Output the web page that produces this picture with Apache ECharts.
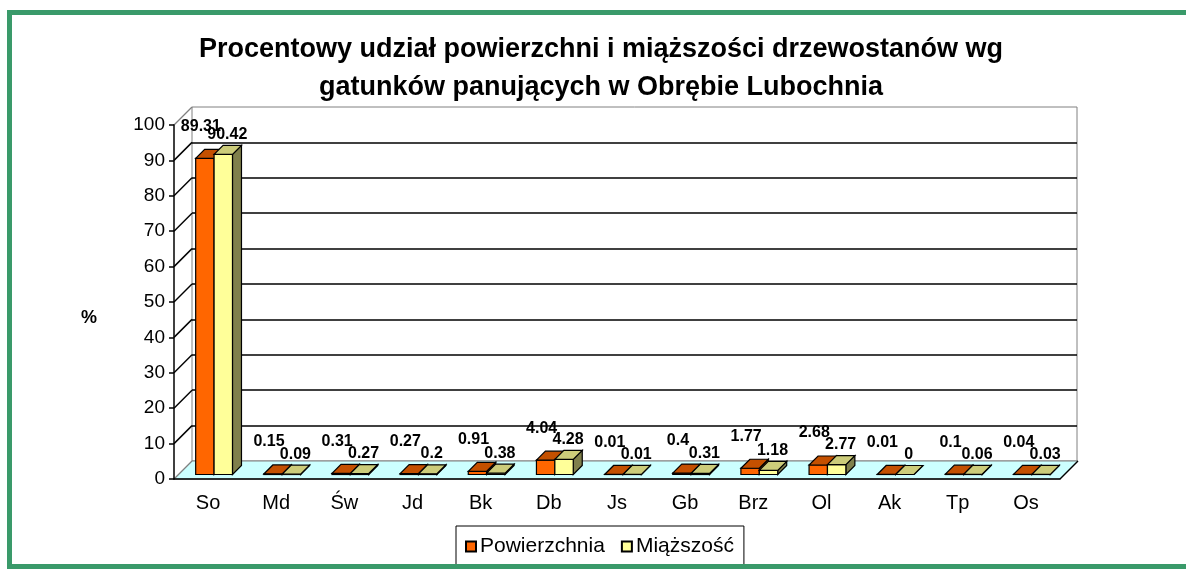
<!DOCTYPE html>
<html>
<head>
<meta charset="utf-8">
<script src="https://cdn.jsdelivr.net/npm/echarts@6/dist/echarts.min.js"></script>
<style>
  html, body { margin: 0; padding: 0; background: #fff; }
  #chart { width: 1186px; height: 569px; }
</style>
</head>
<body>
<div id="chart"></div>
<script>
// gatunki panujace
const categories = ['So', 'Md', 'Św', 'Jd', 'Bk', 'Db', 'Js', 'Gb', 'Brz', 'Ol', 'Ak', 'Tp', 'Os'];
const powierzchnia = [89.31, 0.15, 0.31, 0.27, 0.91, 4.04, 0.01, 0.4, 1.77, 2.68, 0.01, 0.1, 0.04];
const miazszosc = [90.42, 0.09, 0.27, 0.2, 0.38, 4.28, 0.01, 0.31, 1.18, 2.77, 0, 0.06, 0.03];
const yMin = 0, yMax = 100, yStep = 10;

const FONT = '"Liberation Sans", Arial, sans-serif';
const DEPTH = 18;      // wall depth (px)
const BAR_DEPTH = 9;   // box depth
const BAR_OFF = 4.5;   // box front from front plane

const chart = echarts.init(document.getElementById('chart'));

function frameRender(params, api) {
    const cs = params.coordSys;
    const left = cs.x, right = cs.x + cs.width, bottom = cs.y + cs.height;
    const children = [{
        type: 'polygon',
        shape: { points: [[left, bottom], [right, bottom], [right + DEPTH, bottom - DEPTH], [left + DEPTH, bottom - DEPTH]] },
        style: { fill: '#CCFFFF', stroke: '#808080', lineWidth: 1 }
    }, {
        type: 'line',
        shape: { x1: right, y1: bottom, x2: right + DEPTH, y2: bottom - DEPTH },
        style: { stroke: '#000', lineWidth: 1.5 }
    }];
    for (let v = yMin; v <= yMax; v += yStep) {
        const y = api.coord([0, v])[1];
        const edge = v === yMin || v === yMax;
        children.push({
            type: 'line',
            shape: { x1: left, y1: y, x2: left + DEPTH, y2: y - DEPTH },
            style: { stroke: edge ? '#808080' : '#000', lineWidth: edge ? 1.2 : 1.5 }
        });
    }
    return { type: 'group', children: children };
}

function boxRender(pos, front, topC, side, labelDx, labelDy) {
    return function (params, api) {
        const idx = api.value(0);
        const val = api.value(1);
        const t = api.coord([idx, val]);
        const b = api.coord([idx, 0]);
        const band = api.size([1, 0])[0];
        const w = band * 0.27;
        const cx = t[0] + 6;
        const x0 = cx - w + pos * w;
        const yt = t[1] - BAR_OFF;
        const yb = b[1] - BAR_OFF;
        const d = BAR_DEPTH;
        const line = { stroke: '#000', lineWidth: 1.2 };
        return {
            type: 'group',
            children: [{
                type: 'polygon',
                shape: { points: [[x0 + w, yt], [x0 + w, yb], [x0 + w + d, yb - d], [x0 + w + d, yt - d]] },
                style: Object.assign({ fill: side }, line)
            }, {
                type: 'rect',
                shape: { x: x0, y: yt, width: w, height: yb - yt },
                style: Object.assign({ fill: front }, line)
            }, {
                type: 'polygon',
                shape: { points: [[x0, yt], [x0 + w, yt], [x0 + w + d, yt - d], [x0 + d, yt - d]] },
                style: Object.assign({ fill: topC }, line)
            }, {
                type: 'text',
                style: {
                    text: String(val),
                    x: x0 + w / 2 + labelDx,
                    y: yt - labelDy,
                    align: 'center',
                    verticalAlign: 'bottom',
                    font: 'bold 16px ' + FONT,
                    fill: '#000'
                }
            }]
        };
    };
}

const option = {
    backgroundColor: '#fff',
    animation: false,
    title: {
        text: 'Procentowy udział powierzchni i miąższości drzewostanów wg\ngatunków panujących w Obrębie Lubochnia',
        left: 601,
        textAlign: 'center',
        top: 31,
        padding: 0,
        textStyle: { fontFamily: FONT, fontWeight: 'bold', fontSize: 27, lineHeight: 38, color: '#000' }
    },
    legend: {
        data: ['Powierzchnia', 'Miąższość'],
        left: 456,
        top: 526,
        orient: 'horizontal',
        icon: 'rect',
        itemWidth: 10,
        itemHeight: 10,
        itemGap: 16,
        padding: [10, 10, 11, 9],
        borderColor: '#000',
        borderWidth: 1,
        textStyle: { fontFamily: FONT, fontSize: 21, color: '#000', padding: [0, 0, 0, -1] }
    },
    grid: [
        { left: 174, right: 126, top: 125, bottom: 90, containLabel: false },
        { left: 192, right: 109, top: 107, bottom: 108, show: true, backgroundColor: '#fff', borderColor: '#808080', borderWidth: 1 }
    ],
    xAxis: [{
        type: 'category',
        gridIndex: 0,
        data: categories,
        axisLine: { lineStyle: { color: '#000', width: 1.5 } },
        axisTick: { length: 6, lineStyle: { color: '#000', width: 1.5 } },
        axisLabel: { fontFamily: FONT, fontSize: 20, color: '#000', margin: 14 },
        z: 5
    }, {
        type: 'category',
        gridIndex: 1,
        data: categories,
        show: false
    }],
    yAxis: [{
        type: 'value',
        gridIndex: 0,
        min: yMin,
        max: yMax,
        interval: yStep,
        axisLine: { show: true, lineStyle: { color: '#000', width: 1.5 } },
        axisTick: { show: true, length: 5, lineStyle: { color: '#000', width: 1.5 } },
        axisLabel: { fontFamily: FONT, fontSize: 19, color: '#000', margin: 9 },
        splitLine: { show: false },
        z: 5
    }, {
        type: 'value',
        gridIndex: 1,
        min: yMin,
        max: yMax,
        interval: yStep,
        axisLine: { show: false },
        axisTick: { show: false },
        axisLabel: { show: false },
        splitLine: { show: true, showMinLine: false, showMaxLine: false, lineStyle: { color: '#000', width: 1.5 } }
    }],
    graphic: [{
        type: 'rect',
        shape: { x: 9.5, y: 12.5, width: 1200, height: 554 },
        style: { fill: 'none', stroke: '#3A9A6A', lineWidth: 5 },
        z: 100
    }, {
        // os Y - jednostka
        type: 'text',
        left: 81,
        top: 309,
        style: { text: '%', font: 'bold 18px ' + FONT, fill: '#000' }
    }],
    series: [{
        type: 'custom',
        name: 'frame',
        xAxisIndex: 0,
        yAxisIndex: 0,
        data: [[0, 0]],
        renderItem: frameRender,
        silent: true,
        z: 1
    }, {
        type: 'custom',
        name: 'Powierzchnia',
        xAxisIndex: 0,
        yAxisIndex: 0,
        data: powierzchnia.map((v, i) => [i, v]),
        itemStyle: { color: '#FF6600', borderColor: '#000', borderWidth: 1 },
        renderItem: boxRender(0, '#FF6600', '#C45000', '#803300', -4, 24),
        z: 3
    }, {
        type: 'custom',
        name: 'Miąższość',
        xAxisIndex: 0,
        yAxisIndex: 0,
        data: miazszosc.map((v, i) => [i, v]),
        itemStyle: { color: '#FFFF99', borderColor: '#000', borderWidth: 1 },
        renderItem: boxRender(1, '#FFFF99', '#CCCC7A', '#80804C', 4, 12),
        z: 4
    }]
};

chart.setOption(option);
</script>
</body>
</html>
